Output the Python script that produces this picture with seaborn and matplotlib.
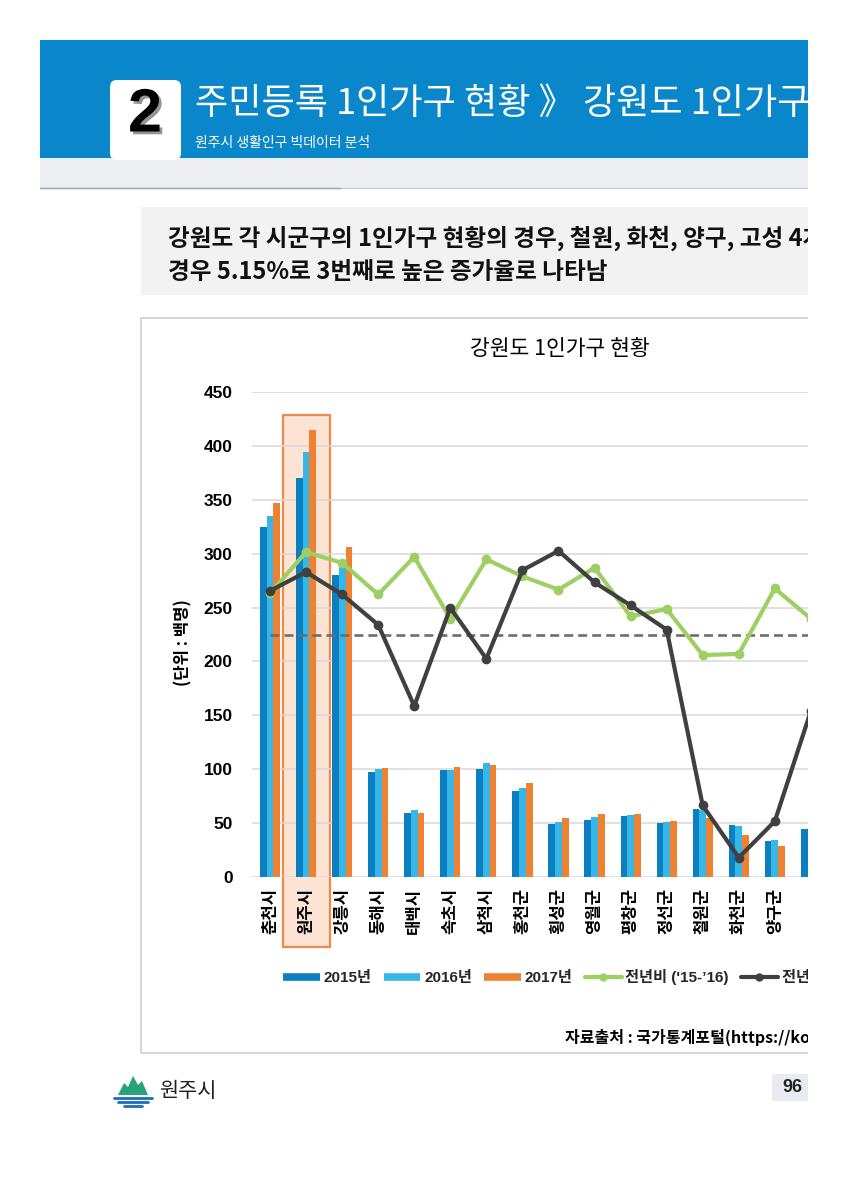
import numpy as np
import pandas as pd
import seaborn as sns
import matplotlib.pyplot as plt
import matplotlib.patheffects as pe
from matplotlib.patches import Rectangle, FancyBboxPatch, Polygon
from matplotlib.lines import Line2D

# 강원도 시군별 1인가구 (단위: 백명)
cats = ['춘천시', '원주시', '강릉시', '동해시', '태백시', '속초시', '삼척시', '홍천군',
        '횡성군', '영월군', '평창군', '정선군', '철원군', '화천군', '양구군', '인제군']
years = ['2015년', '2016년', '2017년']
v2015 = [325, 370, 280, 97, 59, 99, 100, 79.5, 49.5, 53, 56.5, 50.5, 63.5, 48, 33.5, 44.5]
v2016 = [335, 394, 292, 100, 62.5, 99.5, 105.5, 82.5, 51, 55.5, 57.5, 51, 62, 47.5, 34.5, np.nan]
v2017 = [347, 415, 306, 101, 59, 102, 103.5, 87.5, 55, 58, 58.5, 52, 54.5, 39, 29, np.nan]

# 전년비 증감률 (%), 보조축
chg_1516 = [3.4, 6.8, 5.9, 3.3, 6.4, 1.3, 6.2, 4.8, 3.7, 5.5, 1.5, 2.1, -1.7, -1.6, 3.8, 1.3]
chg_1617 = [3.6, 5.15, 3.3, 0.8, -5.9, 2.2, -2.0, 5.3, 6.9, 4.3, 2.4, 0.4, -14.1, -18.4, -15.4, -6.3]
labels = ['2015년', '2016년', '2017년', "전년비 ('15-’16)", "전년비 ('16-’17)"]

bar_colors = ['#0a80c3', '#38b6e6', '#ee8232']
green = '#9dcf62'
dark = '#404040'

W, H = 847, 1200


def fx(x):
    return x / W


def fy(y):
    return 1 - y / H


sns.set_style('white')
plt.rcParams['font.family'] = ['Noto Sans CJK KR', 'DejaVu Sans']
latin = ['Liberation Sans', 'Noto Sans CJK KR']

fig = plt.figure(figsize=(W / 100, H / 100), dpi=100)


def rect(x0, y0, x1, y1, **kw):
    fig.add_artist(Rectangle((fx(x0), fy(y1)), (x1 - x0) / W, (y1 - y0) / H,
                             transform=fig.transFigure, **kw))


# ---- page header ----
rect(40, 40, 808, 158, color='#0a87cb', lw=0)
rect(40, 158, 808, 188, color='#eceef2', lw=0)
fig.add_artist(Line2D([fx(40), fx(808)], [fy(188), fy(188)], color='#c9ced8', lw=1))
fig.add_artist(Line2D([fx(40), fx(340)], [fy(188), fy(188)], color='#9aa8c2', lw=1))
fig.add_artist(FancyBboxPatch((fx(110), fy(160)), 71 / W, 80 / H,
                              boxstyle='round,pad=0,rounding_size=0.008',
                              mutation_aspect=W / H, transform=fig.transFigure,
                              facecolor='white', edgecolor='none'))
fig.text(fx(145), fy(116), '2', ha='center', va='center', fontsize=44, fontweight='bold',
         family=latin, color='black',
         path_effects=[pe.SimplePatchShadow(offset=(2, -2), shadow_rgbFace='#8a8a8a', alpha=0.9),
                       pe.Normal()])
fig.text(fx(195), fy(104), '주민등록 1인가구 현황 》 강원도 1인가구 현황', ha='left', va='center',
         fontsize=26, color='white')
fig.text(fx(195), fy(143), '원주시 생활인구 빅데이터 분석', ha='left', va='center',
         fontsize=10, color='white')

# ---- summary band ----
rect(141, 207, 808, 295, color='#f2f2f2', lw=0)
fig.text(fx(168), fy(238), '강원도 각 시군구의 1인가구 현황의 경우, 철원, 화천, 양구, 고성 4개',
         ha='left', va='center', fontsize=17, fontweight='bold', color='#111111')
fig.text(fx(168), fy(272), '경우 5.15%로 3번째로 높은 증가율로 나타남',
         ha='left', va='center', fontsize=17, fontweight='bold', color='#111111')

# ---- chart box ----
rect(141, 318, 980, 1053, facecolor='none', edgecolor='#cfcfcf', lw=1.2)
fig.text(fx(560), fy(349), '강원도 1인가구 현황', ha='center', va='center', fontsize=15.5, color='black')
fig.text(fx(183), fy(643), '(단위 : 백명)', rotation=90, ha='center', va='center',
         fontsize=12, fontweight='bold', color='black')

ax = fig.add_axes([fx(252), fy(877), 556 / W, 485 / H])
df = pd.DataFrame({'시군': cats * 3,
                   '연도': np.repeat(years, len(cats)),
                   '인구': v2015 + v2016 + v2017})
sns.barplot(data=df, x='시군', y='인구', hue='연도', order=cats, hue_order=years,
            palette=dict(zip(years, bar_colors)), width=0.56, errorbar=None,
            saturation=1, linewidth=0, legend=False, ax=ax)

# 원주시 강조 박스
hl = cats.index('원주시')
ax.add_patch(Rectangle((hl - 0.65, -65), 1.3, 494, facecolor='#fde3d3', edgecolor='#ee8a4a',
                       lw=1.6, clip_on=False, zorder=0.4))

ax.set_ylim(0, 450)
ax.set_yticks(np.arange(0, 451, 50))
ax.yaxis.grid(True, color='#d9d9d9', lw=1.1)
ax.xaxis.grid(False)
sns.despine(ax=ax, left=True, bottom=True)
ax.set_xlabel('')
ax.set_ylabel('')
ax.tick_params(length=0)
ax.tick_params(axis='y', pad=14)
ax.tick_params(axis='x', pad=8)
for t in ax.get_yticklabels():
    t.set_fontfamily(latin)
    t.set_fontweight('bold')
    t.set_fontsize(12.5)
    t.set_color('black')
ax.set_xticks(range(len(cats)))
ax.set_xticklabels(cats, rotation=90, fontsize=12, fontweight='bold', color='black')

# 증감률 (보조축, -20% ~ 20%)
ax2 = ax.twinx()
idx = np.arange(len(cats))
ax2.hlines(0, 0, len(cats) - 1, colors='#6e6e6e', linestyles=(0, (3.4, 1.9)), lw=1.9, zorder=1)
sns.lineplot(x=idx, y=chg_1516, color=green, lw=3, marker='o', markersize=7,
             markeredgewidth=0, ax=ax2, zorder=2)
sns.lineplot(x=idx, y=chg_1617, color=dark, lw=3, marker='o', markersize=7,
             markeredgewidth=0, ax=ax2, zorder=3)
ax2.set_ylim(-20, 20)
ax2.set_axis_off()
ax.set_xlim(-0.5, 14.92)

# legend
handles = [Line2D([], [], color=c, lw=5.5, solid_capstyle='butt') for c in bar_colors]
handles += [Line2D([], [], color=green, lw=3, marker='o', markersize=6, markeredgewidth=0),
            Line2D([], [], color=dark, lw=3, marker='o', markersize=6, markeredgewidth=0)]
fig.legend(handles, labels, loc='center left', bbox_to_anchor=(fx(283), fy(977)), ncol=5,
           frameon=False, prop={'family': latin, 'weight': 'bold', 'size': 11},
           handlelength=2.4, handletextpad=0.25, columnspacing=0.8, borderpad=0, borderaxespad=0)

fig.text(fx(565), fy(1037), '자료출처 : 국가통계포털(https://kosis.kr)', ha='left', va='center',
         fontsize=11.5, fontweight='bold', color='black')

# ---- footer ----
fig.add_artist(Polygon([(fx(118), fy(1095)), (fx(124), fy(1083)), (fx(128), fy(1087)),
                        (fx(133), fy(1076)), (fx(138), fy(1085)), (fx(142), fy(1081)),
                        (fx(148), fy(1095))], closed=True, transform=fig.transFigure,
                       facecolor='#2aa27b', edgecolor='none'))
for y, x0, x1 in [(1098, 114, 152), (1102, 118, 148), (1106, 124, 142)]:
    fig.add_artist(Line2D([fx(x0), fx(x1)], [fy(y), fy(y)], color='#1b6fb8', lw=2))
fig.text(fx(159), fy(1091), '원주시', ha='left', va='center', fontsize=15, color='#222222')
rect(772, 1074, 830, 1101, color='#e8ebf0', lw=0)
fig.text(fx(782), fy(1088), '96', ha='left', va='center', fontsize=13, fontweight='bold',
         family=latin, color='#222222')

# right side of the page is cut off
rect(808, 0, W + 5, H, color='white', lw=0, zorder=100)

fig.savefig('out.png', dpi=100)
